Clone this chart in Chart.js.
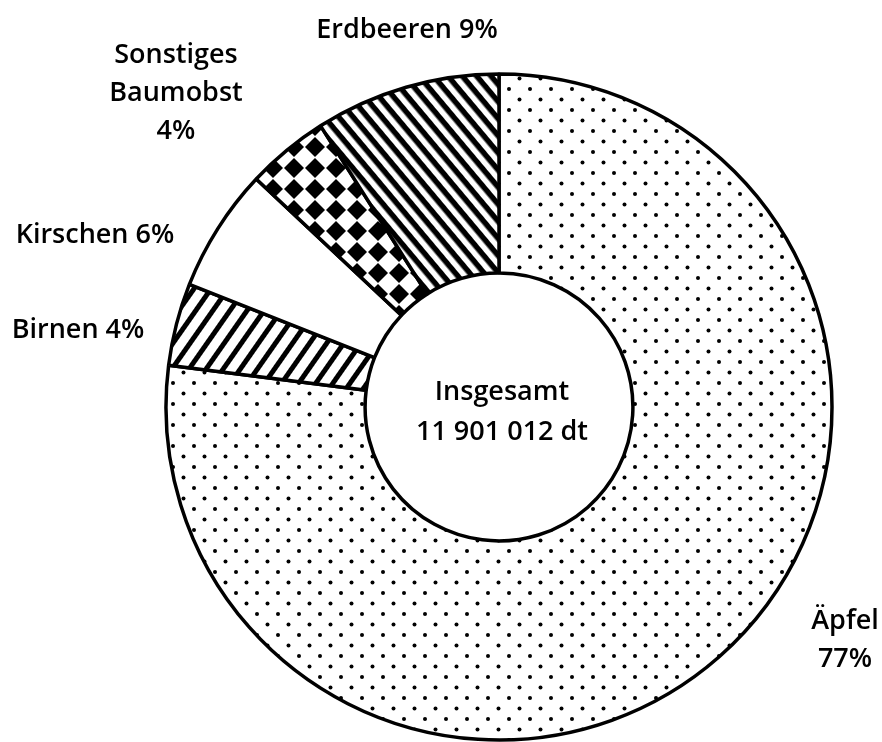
<!DOCTYPE html>
<html lang="de">
<head>
<meta charset="utf-8">
<title>Obsternte</title>
<script src="https://cdn.jsdelivr.net/npm/chart.js@4.4.1/dist/chart.umd.min.js"></script>
<style>
  html, body { margin: 0; padding: 0; background: #fff; }
  canvas { display: block; }
</style>
</head>
<body>
<canvas id="fruitChart" width="882" height="742"></canvas>
<script>
// data (percent of total harvest)
const categories = ['Äpfel', 'Birnen', 'Kirschen', 'Sonstiges Baumobst', 'Erdbeeren'];
const shares = [77, 4, 6, 4, 9];
const labelLines = [['Äpfel', '77%'], ['Birnen 4%'], ['Kirschen 6%'], ['Sonstiges', 'Baumobst', '4%'], ['Erdbeeren 9%']];
const totalLines = ['Insgesamt', '11 901 012 dt'];

// where each label block is centred (layout only)
const labelPos = [[845, 640], [78, 330], [95, 235], [176, 93], [407, 30]];

const FONT = '"Open Sans", "DejaVu Sans", sans-serif';

function makeTile(w, h, draw) {
    const c = document.createElement('canvas');
    c.width = w;
    c.height = h;
    const g = c.getContext('2d');
    g.fillStyle = '#fff';
    g.fillRect(0, 0, w, h);
    g.fillStyle = '#000';
    draw(g, w, h);
    return c;
}

const ctx = document.getElementById('fruitChart').getContext('2d');

// dots on a staggered grid
function dotFill() {
    const tile = makeTile(21, 21, g => {
        [[5, 5], [15.5, 15.5]].forEach(([x, y]) => {
            g.beginPath();
            g.arc(x, y, 2, 0, Math.PI * 2);
            g.fill();
        });
    });
    return ctx.createPattern(tile, 'repeat');
}

// straight hatching, rotated by angle (deg)
function stripeFill(period, thick, angle) {
    const tile = makeTile(8, period, g => g.fillRect(0, 0, 8, thick));
    const p = ctx.createPattern(tile, 'repeat');
    p.setTransform(new DOMMatrix().rotate(angle));
    return p;
}

// checkerboard turned 45 deg: black diamonds on a square grid
function diamondFill() {
    const h = 10;
    const tile = makeTile(21, 21, g => {
        [[0, 0], [21, 0], [0, 21], [21, 21]].forEach(([x, y]) => {
            g.beginPath();
            g.moveTo(x, y - h);
            g.lineTo(x + h, y);
            g.lineTo(x, y + h);
            g.lineTo(x - h, y);
            g.closePath();
            g.fill();
        });
    });
    return ctx.createPattern(tile, 'repeat');
}

const fills = [
    dotFill(),
    stripeFill(14, 5, -55),
    '#ffffff',
    diamondFill(),
    stripeFill(11, 5.5, 50)
];

const labelPlugin = {
    id: 'sliceLabels',
    afterDraw(chart) {
        const c = chart.ctx;
        c.save();
        c.fillStyle = '#000';
        c.textAlign = 'center';
        c.textBaseline = 'middle';
        c.font = '600 27px ' + FONT;
        labelLines.forEach((lines, i) => {
            const [x, y] = labelPos[i];
            const top = y - (lines.length - 1) * 19;
            lines.forEach((t, k) => c.fillText(t, x, top + k * 38));
        });
        const arc = chart.getDatasetMeta(0).data[0];
        c.fillText(totalLines[0], arc.x + 3, arc.y - 15);
        c.fillText(totalLines[1], arc.x + 3, arc.y + 25);
        c.restore();
    }
};

new Chart(ctx, {
    type: 'doughnut',
    data: {
        labels: categories,
        datasets: [{
            data: shares,
            backgroundColor: fills,
            borderColor: '#000',
            borderWidth: 3.5
        }]
    },
    options: {
        responsive: false,
        animation: false,
        radius: 333,
        cutout: 134,
        layout: { padding: { left: 116, top: 72, right: 0, bottom: 0 } },
        plugins: {
            legend: { display: false },
            tooltip: { enabled: false }
        }
    },
    plugins: [labelPlugin]
});
</script>
</body>
</html>
